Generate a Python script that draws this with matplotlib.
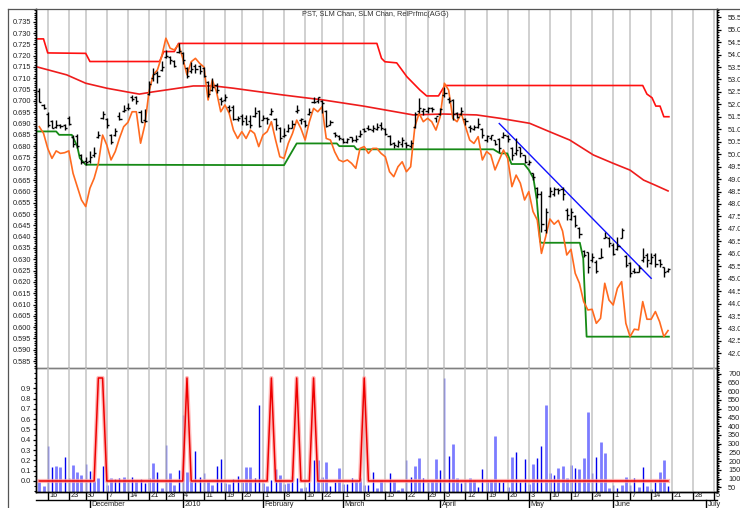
import numpy as np
import matplotlib
matplotlib.use("Agg")
import matplotlib.pyplot as plt
import matplotlib.transforms as mtrans
from matplotlib.lines import Line2D
from matplotlib.ticker import MultipleLocator, FormatStrFormatter, FixedLocator

plt.rcParams['font.family'] = ['Liberation Sans', 'DejaVu Sans']

# trading day index 0 = 2009-11-12, last bar 149 = 2010-06-18
hi = [0.7055, 0.6985, 0.695, 0.6915, 0.6915, 0.690, 0.690, 0.6935, 0.685, 0.6855,
      0.6765, 0.675, 0.678, 0.6795, 0.6865, 0.6955, 0.6925, 0.6855, 0.688, 0.695,
      0.698, 0.699, 0.7025, 0.702, 0.696, 0.6965, 0.709, 0.7145, 0.713, 0.7175,
      0.7225, 0.720, 0.718, 0.7255, 0.7215, 0.715, 0.717, 0.7165, 0.716, 0.715,
      0.709, 0.710, 0.708, 0.7015, 0.703, 0.698, 0.698, 0.6935, 0.694, 0.6937,
      0.6937, 0.6974, 0.696, 0.6937, 0.693, 0.6967, 0.6923, 0.6886, 0.6878, 0.690,
      0.6915, 0.6982, 0.6923, 0.6915, 0.6967, 0.7018, 0.7018, 0.7004, 0.696, 0.6915,
      0.6864, 0.6849, 0.6834, 0.6838, 0.6842, 0.6849, 0.6871, 0.6881, 0.6893, 0.6893,
      0.6901, 0.6908, 0.688, 0.6849, 0.682, 0.6827, 0.6842, 0.682, 0.6827, 0.6952,
      0.7011, 0.6967, 0.6974, 0.6974, 0.693, 0.6967, 0.7063, 0.7019, 0.701, 0.6952,
      0.6974, 0.6923, 0.6894, 0.6894, 0.6923, 0.6879, 0.6849, 0.6849, 0.6827, 0.6834,
      0.6864, 0.6849, 0.6798, 0.6834, 0.6798, 0.6761, 0.6739, 0.668, 0.662, 0.660,
      0.6525, 0.662, 0.662, 0.6615, 0.662, 0.6525, 0.6525, 0.6496, 0.6444, 0.6341,
      0.6334, 0.6326, 0.6297, 0.6348, 0.6422, 0.640, 0.637, 0.640, 0.6437, 0.6319,
      0.629, 0.626, 0.6275, 0.6348, 0.6326, 0.6326, 0.6326, 0.630, 0.6267, 0.626]
lo = [0.6995, 0.6965, 0.6885, 0.688, 0.688, 0.688, 0.687, 0.6895, 0.6795, 0.679,
      0.672, 0.6715, 0.6725, 0.675, 0.6835, 0.692, 0.688, 0.681, 0.6845, 0.6915,
      0.695, 0.696, 0.700, 0.6985, 0.6905, 0.6905, 0.7025, 0.709, 0.708, 0.713,
      0.719, 0.7165, 0.715, 0.721, 0.7165, 0.710, 0.7125, 0.7125, 0.712, 0.7105,
      0.7015, 0.7045, 0.7035, 0.698, 0.700, 0.695, 0.6915, 0.691, 0.6895, 0.6893,
      0.688, 0.693, 0.6886, 0.6915, 0.690, 0.6937, 0.6871, 0.682, 0.6842, 0.6864,
      0.6878, 0.6945, 0.690, 0.6886, 0.6937, 0.6989, 0.6989, 0.6945, 0.6886, 0.6893,
      0.6842, 0.6827, 0.6812, 0.6812, 0.682, 0.682, 0.6842, 0.6864, 0.6871, 0.6864,
      0.6871, 0.6871, 0.6849, 0.6805, 0.679, 0.6798, 0.6798, 0.679, 0.679, 0.6879,
      0.6945, 0.6938, 0.6945, 0.6952, 0.6908, 0.6938, 0.7019, 0.699, 0.6916, 0.6923,
      0.6938, 0.6894, 0.6864, 0.6871, 0.6879, 0.6835, 0.682, 0.6827, 0.6805, 0.6776,
      0.6835, 0.682, 0.6739, 0.676, 0.6754, 0.6724, 0.6717, 0.665, 0.657, 0.642,
      0.6415, 0.6577, 0.658, 0.659, 0.656, 0.6474, 0.6474, 0.6444, 0.6393, 0.6312,
      0.6238, 0.629, 0.6238, 0.6304, 0.6393, 0.6356, 0.6319, 0.6341, 0.6393, 0.6268,
      0.6223, 0.624, 0.6245, 0.629, 0.6268, 0.628, 0.6268, 0.6268, 0.6223, 0.6245]
op = [0.7045, 0.698, 0.694, 0.691, 0.6885, 0.6895, 0.6895, 0.6925, 0.684, 0.6845,
      0.676, 0.6735, 0.6735, 0.676, 0.684, 0.6925, 0.692, 0.685, 0.685, 0.6935,
      0.6955, 0.697, 0.7015, 0.7015, 0.695, 0.6915, 0.703, 0.710, 0.7125, 0.7135,
      0.7195, 0.7195, 0.7175, 0.7215, 0.721, 0.7145, 0.713, 0.7155, 0.7155, 0.7145,
      0.7085, 0.705, 0.707, 0.701, 0.7005, 0.6975, 0.6975, 0.692, 0.6935, 0.6925,
      0.691, 0.6935, 0.6955, 0.6915, 0.6925, 0.694, 0.692, 0.688, 0.6845, 0.6865,
      0.688, 0.6955, 0.6915, 0.691, 0.694, 0.6995, 0.700, 0.700, 0.6955, 0.6895,
      0.686, 0.6845, 0.683, 0.682, 0.684, 0.6825, 0.6845, 0.6875, 0.688, 0.687,
      0.6875, 0.6895, 0.6875, 0.6845, 0.6815, 0.680, 0.681, 0.6815, 0.680, 0.6885,
      0.6955, 0.6955, 0.6955, 0.697, 0.6925, 0.694, 0.7025, 0.701, 0.7005, 0.6945,
      0.694, 0.692, 0.6885, 0.6875, 0.6885, 0.6875, 0.6825, 0.6835, 0.6825, 0.683,
      0.684, 0.6845, 0.679, 0.677, 0.6795, 0.676, 0.672, 0.668, 0.6615, 0.659,
      0.643, 0.658, 0.659, 0.661, 0.661, 0.652, 0.648, 0.649, 0.644, 0.6335,
      0.633, 0.6295, 0.629, 0.6305, 0.6395, 0.6395, 0.6365, 0.6345, 0.6395, 0.6315,
      0.6285, 0.625, 0.6245, 0.6295, 0.632, 0.6285, 0.632, 0.6295, 0.6265, 0.6248]
cl = [0.6995, 0.697, 0.6895, 0.688, 0.6895, 0.689, 0.688, 0.690, 0.681, 0.680,
      0.673, 0.673, 0.675, 0.677, 0.685, 0.694, 0.6895, 0.682, 0.6865, 0.692,
      0.696, 0.697, 0.701, 0.700, 0.6905, 0.691, 0.7075, 0.712, 0.711, 0.715,
      0.720, 0.718, 0.7155, 0.722, 0.718, 0.711, 0.714, 0.714, 0.713, 0.711,
      0.703, 0.706, 0.705, 0.700, 0.7015, 0.696, 0.692, 0.6925, 0.691, 0.690,
      0.6895, 0.6945, 0.689, 0.6925, 0.692, 0.6955, 0.6895, 0.6835, 0.685, 0.688,
      0.690, 0.696, 0.692, 0.6895, 0.695, 0.6995, 0.7015, 0.699, 0.689, 0.6905,
      0.685, 0.6835, 0.682, 0.683, 0.6825, 0.683, 0.6855, 0.6865, 0.6875, 0.688,
      0.6885, 0.688, 0.6855, 0.681, 0.6805, 0.682, 0.6825, 0.6805, 0.6815, 0.694,
      0.697, 0.6965, 0.697, 0.6965, 0.6935, 0.6965, 0.7035, 0.700, 0.694, 0.693,
      0.6955, 0.691, 0.688, 0.6885, 0.690, 0.685, 0.6845, 0.685, 0.681, 0.679,
      0.685, 0.683, 0.676, 0.6785, 0.677, 0.673, 0.673, 0.6665, 0.659, 0.6455,
      0.651, 0.660, 0.661, 0.6605, 0.659, 0.6495, 0.651, 0.645, 0.641, 0.632,
      0.6265, 0.631, 0.625, 0.631, 0.640, 0.637, 0.6325, 0.636, 0.643, 0.6275,
      0.624, 0.6245, 0.626, 0.631, 0.6295, 0.631, 0.628, 0.628, 0.6245, 0.6255]
relprf = [0.6886, 0.6857, 0.679, 0.6746, 0.6779, 0.6768, 0.6771, 0.6779, 0.668, 0.6621,
          0.6562, 0.6533, 0.6614, 0.6658, 0.6724, 0.6849, 0.6805, 0.6739, 0.6776, 0.6835,
          0.6886, 0.6905, 0.6952, 0.6952, 0.6813, 0.6893, 0.7041, 0.7115, 0.7137, 0.7196,
          0.7277, 0.7233, 0.7225, 0.725, 0.7188, 0.7115, 0.7173, 0.7188, 0.7166, 0.715,
          0.7004, 0.7092, 0.704, 0.6952, 0.6982, 0.6945, 0.6871, 0.6834, 0.6864, 0.6834,
          0.6871, 0.6856, 0.6798, 0.6849, 0.6864, 0.6908, 0.6827, 0.6753, 0.6746, 0.6812,
          0.6856, 0.6915, 0.6878, 0.6827, 0.6908, 0.6967, 0.6952, 0.6974, 0.6834, 0.6827,
          0.6775, 0.6739, 0.6731, 0.6739, 0.6724, 0.6702, 0.679, 0.6798, 0.6768, 0.679,
          0.679, 0.6768, 0.6753, 0.6687, 0.6665, 0.6709, 0.6731, 0.6687, 0.6709, 0.6886,
          0.6945, 0.6908, 0.6923, 0.6908, 0.6871, 0.693, 0.7078, 0.7048, 0.6923, 0.6908,
          0.6945, 0.6886, 0.6827, 0.6812, 0.6842, 0.6739, 0.6776, 0.6761, 0.6695, 0.6739,
          0.6783, 0.6746, 0.6621, 0.6672, 0.6636, 0.6562, 0.6599, 0.6511, 0.6474, 0.6326,
          0.640, 0.6478, 0.6455, 0.6472, 0.6425, 0.6319, 0.6344, 0.6238, 0.6194, 0.6113,
          0.6076, 0.6079, 0.6017, 0.6039, 0.6194, 0.612, 0.6098, 0.6172, 0.6201, 0.6017,
          0.5958, 0.5991, 0.5988, 0.6113, 0.6035, 0.6035, 0.6069, 0.6024, 0.5958, 0.5985]

# channel lines, read as (day, value) vertices
upper_d = [-0.7, 1, 2, 11, 12, 28.5, 29.5, 32, 33, 80, 81.1, 81.9, 84.7, 87.1, 90.2,
           91.8, 94.6, 96.1, 143, 144, 145.2, 146.1, 147.1, 148, 149.2]
upper_v = [0.7274, 0.7274, 0.7212, 0.7210, 0.7174, 0.7174, 0.7218, 0.7218, 0.7254, 0.7254,
           0.7188, 0.7173, 0.7168, 0.7107, 0.7048, 0.7022, 0.7022, 0.7068, 0.7068, 0.703,
           0.7014, 0.6977, 0.6977, 0.693, 0.693]
mid_d = [-0.7, 6.5, 11, 16, 20.7, 23.7, 27, 31.8, 36.5, 41.4, 46, 49.9, 57.8, 67.3,
         76.8, 88.6, 95.7, 103.6, 109.2, 116.2, 120.9, 125.7, 131.3, 136, 140, 143.2,
         145.9, 149]
mid_v = [0.7151, 0.7115, 0.7078, 0.7056, 0.704, 0.703, 0.704, 0.7053, 0.7066, 0.7066,
         0.7056, 0.7046, 0.7026, 0.7004, 0.6977, 0.6938, 0.6942, 0.6938, 0.6923, 0.6901,
         0.6864, 0.6827, 0.6761, 0.6724, 0.6694, 0.665, 0.6628, 0.6602]
lower_d = [-0.7, 4.0, 4.7, 7.7, 9.0, 9.6, 11, 58, 61, 70.5, 71.1, 74.6, 75.2, 107.6,
           109.2, 110.9, 111.9, 114.9, 116, 117.1, 117.9, 118.7, 119, 128.1, 128.9,
           129.7, 149.2]
lower_v = [0.6865, 0.6865, 0.685, 0.685, 0.6799, 0.6747, 0.6718, 0.6716, 0.6812, 0.6812,
           0.680, 0.680, 0.6786, 0.6786, 0.6768, 0.6768, 0.6721, 0.6721, 0.6695, 0.6658,
           0.6562, 0.6378, 0.6373, 0.6373, 0.6304, 0.5958, 0.5958]
trend_d = [109.0, 145.0]
trend_v = [0.690, 0.6216]

volume = [82, 59, 286, 164, 173, 164, 221, 105, 177, 135,
          120, 183, 141, 86, 105, 173, 66, 105, 97, 105,
          107, 91, 110, 86, 97, 72, 105, 192, 135, 49,
          292, 130, 63, 149, 463, 139, 86, 257, 110, 130,
          91, 66, 171, 210, 76, 68, 97, 116, 82, 164,
          164, 101, 521, 72, 59, 91, 154, 120, 68, 72,
          114, 101, 47, 53, 78, 206, 206, 110, 196, 57,
          82, 158, 68, 68, 101, 87, 101, 63, 63, 135,
          44, 91, 28, 130, 87, 34, 47, 206, 110, 171,
          215, 101, 82, 87, 212, 152, 673, 229, 296, 101,
          76, 91, 105, 91, 53, 154, 91, 91, 343, 82,
          82, 53, 225, 253, 78, 212, 68, 181, 215, 288,
          521, 130, 120, 158, 171, 101, 177, 158, 154, 215,
          482, 130, 221, 311, 244, 49, 63, 49, 61, 107,
          63, 101, 53, 164, 57, 38, 80, 139, 206, 57]
# d = dark narrow bar, l = light wide bar
vol_kind = "".join([
    "llddllddll", "lddlldlldd", "lddlddlldl", "dllddllddd", "llddllddll",
    "lddllddlll", "ddllddllld", "dllddllldd", "llddlllddl", "lddlldddll",
    "ddllddllld", "dlldddlldd", "lldlllldll", "lddlllddll", "ddldlldlld"])
signal_days = [14, 15, 35, 55, 61, 65, 77]

week_days = [2, 7, 11, 16, 21, 26, 30, 34, 39, 44, 48, 53, 58, 63, 67, 72, 77, 82, 87,
             92, 96, 101, 106, 111, 116, 121, 126, 131, 136, 140, 145, 150, 155, 160]
week_lbl = ['16', '23', '30', '7', '14', '21', '28', '4', '11', '19', '25', '1', '8',
            '16', '22', '1', '8', '15', '22', '29', '5', '12', '19', '26', '3', '10',
            '17', '24', '1', '7', '14', '21', '28', '5']
month_days = [12, 34, 53, 72, 95, 116, 136, 158]
month_lbl = ['December', '2010', 'February', 'March', 'April', 'May', 'June', 'July']

W, H = 740, 508
fig = plt.figure(figsize=(W / 100, H / 100), dpi=100)
L, R, T, M, B = 36, 717, 9, 368.3, 491.7
ax = fig.add_axes([L / W, 1 - M / H, (R - L) / W, (M - T) / H])
axv = fig.add_axes([L / W, 1 - B / H, (R - L) / W, (B - M) / H], sharex=ax)
axr = ax.twinx()
axvr = axv.twinx()

n = len(cl)
x = np.arange(n)
fs = 5.3
tc = '#222222'

# weekly grid
for a in (ax, axv):
    for d in week_days:
        a.axvline(d, color='#c4c4c4', lw=1.1, zorder=0)

# OHLC bars
ax.vlines(x, lo, hi, color='black', lw=1.0, zorder=4)
ax.hlines(op, x - 0.5, x, color='black', lw=1.0, zorder=4)
ax.hlines(cl, x, x + 0.5, color='black', lw=1.0, zorder=4)

ax.plot(upper_d, upper_v, color='#ff1010', lw=1.2, zorder=3)
ax.plot(mid_d, mid_v, color='#ee1c1c', lw=1.2, zorder=3)
ax.plot(lower_d, lower_v, color='#168a16', lw=1.3, zorder=3)
ax.plot(x, relprf, color='#ff6a1f', lw=1.2, zorder=3)
ax.plot(trend_d, trend_v, color='#1010ff', lw=1.0, zorder=3)

ax.set_xlim(-0.78, 160.6)
ax.set_ylim(0.58182, 0.74061)
axr.set_ylim(41.40, 55.83)

# lower panel: volume bars + signal
dark = [i for i in range(n) if vol_kind[i] == 'd']
light = [i for i in range(n) if vol_kind[i] == 'l']
vbot = 25
axvr.vlines(light, vbot, [volume[i] for i in light], color='#7c7cff', lw=2.0)
axvr.vlines(dark, vbot, [volume[i] for i in dark], color='#0000ee', lw=1.0)
axvr.set_ylim(vbot, 731)

sig = np.zeros(n)
sig[signal_days] = 1.0
axv.set_zorder(axvr.get_zorder() + 1)
axv.patch.set_visible(False)
axv.plot(x, sig, color='#ff9a9a', lw=3.0, alpha=0.7)
axv.plot(x, sig, color='#ee0000', lw=1.1)
axv.set_ylim(-0.104, 1.094)

# ticks
for a in (ax, axv):
    a.tick_params(axis='y', which='major', direction='out', length=2.2, width=0.9,
                  pad=1.2, labelsize=fs, labelcolor=tc)
    a.tick_params(axis='y', which='minor', direction='out', length=1.2, width=0.8)
for a in (axr, axvr):
    a.tick_params(axis='y', which='major', direction='out', length=3, width=0.9,
                  pad=5, labelsize=fs, labelcolor=tc)
    a.tick_params(axis='y', which='minor', direction='out', length=1.5, width=0.8)

ax.yaxis.set_major_locator(FixedLocator(np.round(np.arange(0.585, 0.7351, 0.005), 3)))
ax.yaxis.set_minor_locator(MultipleLocator(0.001))
ax.yaxis.set_major_formatter(FormatStrFormatter('%.3f'))
axr.yaxis.set_major_locator(FixedLocator(np.arange(42.0, 55.51, 0.5)))
axr.yaxis.set_minor_locator(MultipleLocator(0.1))
axr.yaxis.set_major_formatter(FormatStrFormatter('%.1f'))
axv.yaxis.set_major_locator(FixedLocator(np.round(np.arange(0.0, 0.91, 0.1), 1)))
axv.yaxis.set_minor_locator(MultipleLocator(0.05))
axv.yaxis.set_major_formatter(FormatStrFormatter('%.1f'))
axvr.yaxis.set_major_locator(FixedLocator(np.arange(50, 701, 50)))
axvr.yaxis.set_minor_locator(MultipleLocator(10))

for a in (ax, axv, axr, axvr):
    a.tick_params(axis='x', which='both', bottom=False, top=False,
                  labelbottom=False, labeltop=False)
    for s in a.spines.values():
        s.set_color('black')
        s.set_linewidth(1.0)
for a in (ax, axr):
    a.spines['top'].set_visible(False)
    a.spines['bottom'].set_color('#808080')
for a in (axv, axvr):
    a.spines['top'].set_visible(False)

# date axis rows below the lower panel
trans = mtrans.blended_transform_factory(axv.transData, fig.transFigure)
for d, s in zip(week_days, week_lbl):
    fig.add_artist(Line2D([d, d], [1 - B / H, 1 - 499 / H], transform=trans,
                          color='black', lw=1.0))
    fig.text(d + 0.35, 1 - 495.8 / H, s, transform=trans, ha='left', va='center',
             size=fs, color=tc)
fig.add_artist(Line2D([L / W, R / W], [1 - 500 / H, 1 - 500 / H],
                      color='black', lw=1.0))
for d, s in zip(month_days, month_lbl):
    fig.add_artist(Line2D([d, d], [1 - 500 / H, 0], transform=trans,
                          color='black', lw=1.0))
    fig.text(d + 0.35, 1 - 504.6 / H, s, transform=trans, ha='left', va='center',
             size=fs, color=tc)

# outer frame
fig.add_artist(Line2D([8.3 / W, 8.3 / W], [0, 1 - 9.3 / H], color='#555555', lw=0.9))
fig.add_artist(Line2D([8.3 / W, 1], [1 - 9.3 / H, 1 - 9.3 / H], color='#555555', lw=0.9))

fig.text(375.7 / W, 1 - 14.7 / H, 'PST, SLM Chan, SLM Chan, RelPrfmc(AGG)',
         ha='center', va='center', size=fs, color='#333333')

fig.savefig('out.png', dpi=100)
